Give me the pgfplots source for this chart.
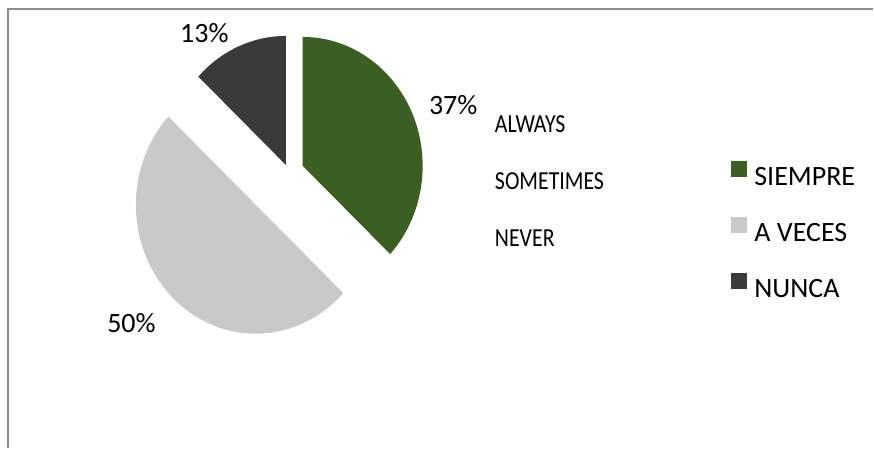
\documentclass[border=0pt]{standalone}
\usepackage{pgfplots}
\usepackage{pgfplotstable}
\usepackage{fontspec}
\pgfplotsset{compat=1.18}
\setmainfont{Carlito}
\newfontfamily\narrowfont[FakeStretch=0.84]{Carlito}
\definecolor{siempre}{HTML}{3B5E23}
\definecolor{aveces}{HTML}{C9C9C9}
\definecolor{nunca}{HTML}{3A3A3A}
\definecolor{frame}{HTML}{8C8C8C}

\pgfplotstableread{
label   value
SIEMPRE 37
AVECES  50
NUNCA   13
}\piedata

% slice angles, clockwise from 12 o'clock
\pgfplotstablegetelem{0}{value}\of\piedata \let\va\pgfplotsretval
\pgfplotstablegetelem{1}{value}\of\piedata \let\vb\pgfplotsretval
\pgfplotstablegetelem{2}{value}\of\piedata \let\vc\pgfplotsretval
\pgfmathsetmacro\aA{3.6*\va}
\pgfmathsetmacro\aB{3.6*(\va+\vb)}
\pgfmathsetmacro\aC{3.6*(\va+\vb+\vc)}

% #1,#2 apex, #3 start, #4 end, #5 colour
\newcommand\slice[5]{%
  \fill[#5] (axis cs:#1,#2) -- ++({90-#3}:60bp and 64.5bp)
    arc[start angle={90-#3}, end angle={90-#4}, x radius=60bp, y radius=64.5bp] -- cycle;}

\begin{document}
\begin{tikzpicture}
\begin{axis}[
    x=0.5bp, y=0.5bp,
    xmin=0, xmax=874, ymin=0, ymax=448,
    hide axis, clip=false,
    legend style={draw=none, fill=none, at={(axis cs:732,287)}, anchor=north west,
        inner sep=0pt, outer sep=0pt, row sep=15.5bp,
        font=\fontsize{14bp}{16bp}\selectfont,
        nodes={inner sep=0pt, text height=9bp, text depth=0pt}},
    legend cell align=left,
    legend image code/.code={\fill[#1, draw=none] (0bp,0bp) rectangle (8bp,8bp);
        \path[draw=none, fill=none] (0bp,0bp) -- (11.5bp,0bp);},
    ]
\path (axis cs:0,0) rectangle (axis cs:874,448);
\draw[frame, line width=0.75bp] (axis cs:8,0) -- (axis cs:8,439) -- (axis cs:874,439);

\slice{303}{282}{0}{\aA}{siempre}
\slice{256}{243}{\aA}{\aB}{aveces}
\slice{286}{283}{\aB}{\aC}{nunca}

\addlegendimage{fill=siempre}\addlegendentry{SIEMPRE}
\addlegendimage{fill=aveces}\addlegendentry{A VECES}
\addlegendimage{fill=nunca}\addlegendentry{NUNCA}

\begin{scope}[every node/.style={anchor=base west, inner sep=0pt}]
\node[font=\fontsize{14bp}{16bp}\selectfont] at (axis cs:429,333) {37\%};
\node[font=\fontsize{14bp}{16bp}\selectfont] at (axis cs:180,405) {13\%};
\node[font=\fontsize{14bp}{16bp}\selectfont] at (axis cs:107,115) {50\%};
\node[font=\narrowfont\fontsize{13bp}{15bp}\selectfont] at (axis cs:495,315) {ALWAYS};
\node[font=\narrowfont\fontsize{13bp}{15bp}\selectfont] at (axis cs:495,258) {SOMETIMES};
\node[font=\narrowfont\fontsize{13bp}{15bp}\selectfont] at (axis cs:495,201) {NEVER};
\end{scope}
\end{axis}
\end{tikzpicture}
\end{document}
